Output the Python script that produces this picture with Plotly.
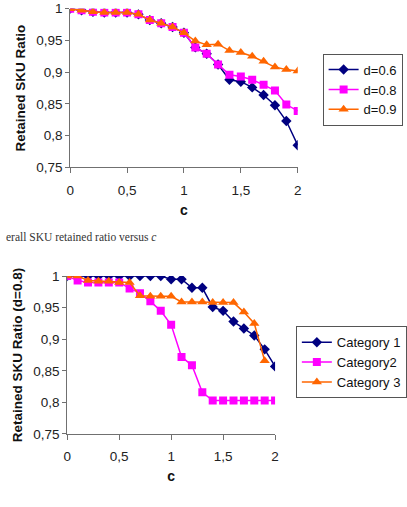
import plotly.graph_objects as go

# ---------------- data ----------------
c_vals = [0.0, 0.1, 0.2, 0.3, 0.4, 0.5, 0.6, 0.7, 0.8, 0.9, 1.0,
          1.1, 1.2, 1.3, 1.4, 1.5, 1.6, 1.7, 1.8, 1.9, 2.0]

d06 = [1.0, 0.9975, 0.995, 0.994, 0.994, 0.994, 0.991, 0.982, 0.977, 0.971, 0.962,
       0.939, 0.929, 0.912, 0.888, 0.885, 0.876, 0.864, 0.848, 0.823, 0.785]
d08 = [1.0, 0.9975, 0.995, 0.994, 0.994, 0.994, 0.991, 0.982, 0.977, 0.971, 0.962,
       0.939, 0.929, 0.912, 0.896, 0.893, 0.888, 0.880, 0.871, 0.849, 0.839]
d09 = [1.0, 0.9975, 0.995, 0.994, 0.994, 0.994, 0.991, 0.982, 0.977, 0.971, 0.962,
       0.949, 0.943, 0.944, 0.934, 0.931, 0.925, 0.917, 0.908, 0.904, 0.902]

cat1 = [1.0, 1.0, 1.0, 1.0, 1.0, 1.0, 1.0, 1.0, 1.0, 1.0, 0.995,
        0.995, 0.9815, 0.9815, 0.951, 0.945, 0.928, 0.917, 0.906, 0.884, 0.857]
cat2 = [1.0, 0.993, 0.990, 0.990, 0.990, 0.990, 0.9805, 0.973, 0.960, 0.945, 0.923,
        0.872, 0.859, 0.816, 0.803, 0.803, 0.803, 0.803, 0.803, 0.803, 0.803]
c_cat3 = c_vals[:20]
cat3 = [1.0, 1.0, 0.993, 0.992, 0.992, 0.990, 0.990, 0.969, 0.968, 0.968,
        0.968, 0.959, 0.959, 0.959, 0.958, 0.958, 0.958, 0.943, 0.925, 0.866]

x_tickvals = [0, 0.5, 1, 1.5, 2]
x_ticktext = ["0", "0,5", "1", "1,5", "2"]
y_tickvals = [0.75, 0.8, 0.85, 0.9, 0.95, 1.0]
y_ticktext = ["0,75", "0,8", "0,85", "0,9", "0,95", "1"]

top_names = ["d=0.6", "d=0.8", "d=0.9"]
bottom_names = ["Category 1", "Category2", "Category 3"]

# ---------------- styles ----------------
NAVY = "#000080"
MAGENTA = "#FF00FF"
ORANGE = "#FF6600"
FONT = "Liberation Sans, Arial, sans-serif"

fig = go.Figure()

def add(x, y, name, color, symbol, size, xa, ya, legend):
    fig.add_trace(go.Scatter(
        x=x, y=y, name=name, mode="lines+markers",
        line=dict(color=color, width=1.5),
        marker=dict(color=color, symbol=symbol, size=size),
        xaxis=xa, yaxis=ya, legend=legend))

add(c_vals, d06, top_names[0], NAVY, "diamond", 8, "x", "y", "legend")
add(c_vals, d08, top_names[1], MAGENTA, "square", 8, "x", "y", "legend")
add(c_vals, d09, top_names[2], ORANGE, "triangle-up", 9, "x", "y", "legend")

add(c_vals, cat1, bottom_names[0], NAVY, "diamond", 8, "x2", "y2", "legend2")
add(c_vals, cat2, bottom_names[1], MAGENTA, "square", 8, "x2", "y2", "legend2")
add(c_cat3, cat3, bottom_names[2], ORANGE, "triangle-up", 9, "x2", "y2", "legend2")

W, H = 407, 507

def xaxis(domain, anchor):
    return dict(domain=domain, anchor=anchor, range=[0, 2],
                tickvals=x_tickvals, ticktext=x_ticktext,
                showline=True, linecolor="#707070", linewidth=1,
                ticks="outside", ticklen=5, tickcolor="#707070",
                showgrid=False, zeroline=False,
                tickfont=dict(family=FONT, size=13.5, color="#222"),
                ticklabelstandoff=5,
                title=dict(text="<b>c</b>", font=dict(family=FONT, size=14, color="#111"),
                           standoff=8))

def yaxis(domain, anchor, title):
    return dict(domain=domain, anchor=anchor, range=[0.75, 1.0],
                tickvals=y_tickvals, ticktext=y_ticktext,
                showline=True, linecolor="#707070", linewidth=1,
                ticks="outside", ticklen=4, tickcolor="#707070",
                showgrid=False, zeroline=False,
                tickfont=dict(family=FONT, size=13.5, color="#222"),
                title=dict(text="<b>" + title + "</b>",
                           font=dict(family=FONT, size=13.5, color="#111"),
                           standoff=7))

fig.update_layout(
    width=W, height=H,
    margin=dict(l=0, r=0, t=0, b=0),
    paper_bgcolor="white", plot_bgcolor="white",
    font=dict(family=FONT, size=13, color="#111"),
    xaxis=xaxis([67.5 / W, 299.6 / W], "y"),
    yaxis=yaxis([1 - 165.3 / H, 1 - 1.7 / H], "x", "Retained SKU Ratio"),
    xaxis2=xaxis([64.5 / W, 276.5 / W], "y2"),
    yaxis2=yaxis([1 - 440 / H, 1 - 277.3 / H], "x2", "Retained SKU Ratio (d=0.8)"),
    legend=dict(x=325 / W, y=1 - 48 / H, xanchor="left", yanchor="top",
                bordercolor="#555", borderwidth=1, bgcolor="white",
                font=dict(family=FONT, size=13, color="#111"),
                tracegroupgap=0, itemwidth=30),
    legend2=dict(x=297.7 / W, y=1 - 329 / H, xanchor="left", yanchor="top",
                 bordercolor="#555", borderwidth=1, bgcolor="white",
                 font=dict(family=FONT, size=13, color="#111"),
                 tracegroupgap=0, itemwidth=30),
    showlegend=True,
)

fig.add_annotation(
    text="erall SKU retained ratio versus <i>c</i>",
    xref="paper", yref="paper", x=0, y=1 - 237 / H,
    xanchor="left", yanchor="middle", showarrow=False,
    font=dict(family="Liberation Serif, Times New Roman, serif", size=11.5, color="#333"))

fig.write_html("out.html")
